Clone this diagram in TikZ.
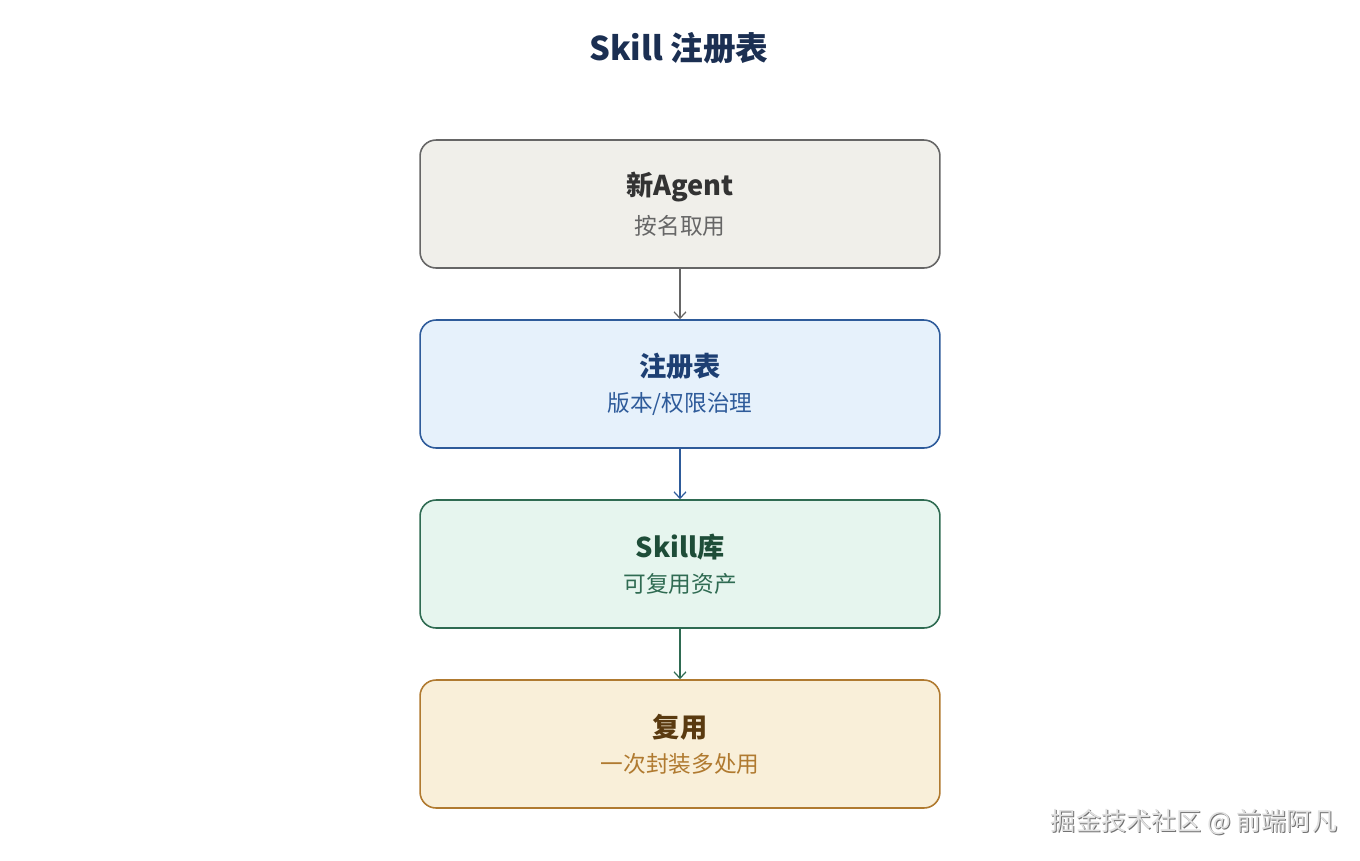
\documentclass[tikz,border=0pt]{standalone}
\usepackage{fontspec}
\setmainfont{Noto Sans CJK SC}
\usetikzlibrary{arrows.meta,positioning}

\definecolor{titleblue}{HTML}{1B2F52}
\definecolor{grayfill}{HTML}{F0EFEA}
\definecolor{grayline}{HTML}{666666}
\definecolor{graytext}{HTML}{333333}
\definecolor{bluefill}{HTML}{E6F1FB}
\definecolor{blueline}{HTML}{2E5B9A}
\definecolor{bluetext}{HTML}{1D3F73}
\definecolor{greenfill}{HTML}{E6F5EE}
\definecolor{greenline}{HTML}{2F6B52}
\definecolor{greentext}{HTML}{1E4D38}
\definecolor{sandfill}{HTML}{F9EFD9}
\definecolor{sandline}{HTML}{B07A30}
\definecolor{sandtext}{HTML}{5A3A10}

% two lines in a box: heading and note
\newcommand{\boxlines}[4]{%
  {\color{#3}\fontsize{15.5}{18}\selectfont\bfseries #1}\\[6.5pt]
  {\color{#4}\fontsize{12.9}{15}\selectfont #2}}

\begin{document}
\begin{tikzpicture}[x=0.02cm,y=-0.02cm]

        % Setup the style for the boxes
        \tikzset{box style/.style={rectangle,
                                   rounded corners=0.32cm,
                                   minimum width=10.4cm,
                                   minimum height=2.56cm,
                                   line width=0.9pt,
                                   align=center},
                 link/.style={line width=0.7pt,
                              -{Straight Barb[length=1.3mm,width=2.4mm]}}}

        \useasboundingbox (0,0) rectangle (1360,860);

        % Title
        \node[text=titleblue, font=\fontsize{18.6}{21}\selectfont\bfseries] at (679, 48) (title) {Skill 注册表};

        % Draw the boxes
        \node[box style, draw=grayline,  fill=grayfill]  at (680, 204) (agent)    {\boxlines{新Agent}{按名取用}{graytext}{grayline}};
        \node[box style, draw=blueline,  fill=bluefill]  at (680, 384) (registry) {\boxlines{注册表}{版本/权限治理}{bluetext}{blueline}};
        \node[box style, draw=greenline, fill=greenfill] at (680, 564) (library)  {\boxlines{Skill库}{可复用资产}{greentext}{greenline}};
        \node[box style, draw=sandline,  fill=sandfill]  at (680, 744) (reuse)    {\boxlines{复用}{一次封装多处用}{sandtext}{sandline}};

        % Connect the boxes
        \draw[link, draw=grayline]  (agent)    -- (registry);
        \draw[link, draw=blueline]  (registry) -- (library);
        \draw[link, draw=greenline] (library)  -- (reuse);

        % Watermark
        \node[text=black!55, font=\fontsize{14.3}{16}\selectfont] at (1195, 823) (markshadow) {掘金技术社区 @ 前端阿凡};
        \node[text=black!12, font=\fontsize{14.3}{16}\selectfont] at (1194, 822) (mark) {掘金技术社区 @ 前端阿凡};

    \end{tikzpicture}
\end{document}
